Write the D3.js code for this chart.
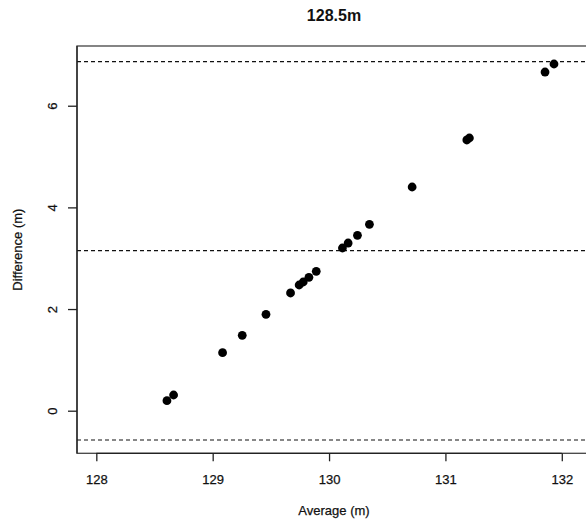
<!DOCTYPE html>
<html>
<head>
<meta charset="utf-8">
<script src="https://cdn.jsdelivr.net/npm/d3@7"></script>
<style>
  html, body { margin: 0; padding: 0; background: #fff; }
  svg { display: block; font-family: "Liberation Sans", Arial, Helvetica, sans-serif; }
</style>
</head>
<body>
<svg id="chart" width="586" height="519"></svg>
<script>
// ---- data ----
const averages = [128.607, 128.664, 129.085, 129.254, 129.458, 129.669, 129.743, 129.778,
                  129.827, 129.890, 130.115, 130.164, 130.244, 130.347, 130.714, 131.184,
                  131.206, 131.856, 131.933];
const differences = [0.197, 0.309, 1.141, 1.483, 1.897, 2.316, 2.473, 2.532,
                     2.624, 2.742, 3.201, 3.299, 3.451, 3.667, 4.401, 5.326,
                     5.365, 6.663, 6.821];
const limitLines = [6.866, 3.148, -0.576];   // upper LoA, mean diff, lower LoA
const xTicks = [128, 129, 130, 131, 132];
const yTicks = [0, 2, 4, 6];
const titleText = "128.5m";
const xLabel = "Average (m)";
const yLabel = "Difference (m)";

// ---- layout ----
const svg = d3.select("#chart");
const plot = { left: 77, right: 591, top: 46, bottom: 453.3 };

const x = d3.scaleLinear().domain([127.834, 132.251]).range([plot.left, plot.right]);
const y = d3.scaleLinear().domain([-0.838, 7.175]).range([plot.bottom, plot.top]);

const ink = "#111";
const lineCol = "#222";

// plot box
svg.append("rect")
  .attr("x", plot.left).attr("y", plot.top)
  .attr("width", plot.right - plot.left).attr("height", plot.bottom - plot.top)
  .attr("fill", "none").attr("stroke", "#444").attr("stroke-width", 1.3);

// dashed reference lines
svg.selectAll("line.ref").data(limitLines).join("line")
  .attr("class", "ref")
  .attr("x1", plot.left).attr("x2", plot.right)
  .attr("y1", d => y(d)).attr("y2", d => y(d))
  .attr("stroke", "#111").attr("stroke-width", 1.2)
  .attr("stroke-dasharray", "4,3");

// x axis
const xAxis = d3.axisBottom(x).tickValues(xTicks).tickFormat(d3.format("d"))
  .tickSize(8).tickSizeOuter(0).tickPadding(14);
const gx = svg.append("g").attr("transform", `translate(0,${plot.bottom})`).call(xAxis);
gx.select(".domain").remove();
gx.selectAll(".tick line").attr("stroke", lineCol).attr("stroke-width", 1.3);
gx.selectAll(".tick text").attr("fill", ink).attr("font-size", 13)
  .attr("stroke", ink).attr("stroke-width", 0.25)
  .attr("dy", null).attr("y", 30.5);
svg.append("line")
  .attr("x1", x(xTicks[0])).attr("x2", x(xTicks[xTicks.length - 1]))
  .attr("y1", plot.bottom).attr("y2", plot.bottom)
  .attr("stroke", lineCol).attr("stroke-width", 1.3);

// y axis
const yAxis = d3.axisLeft(y).tickValues(yTicks).tickFormat(d3.format("d"))
  .tickSize(9).tickSizeOuter(0);
const gy = svg.append("g").attr("transform", `translate(${plot.left},0)`).call(yAxis);
gy.select(".domain").remove();
gy.selectAll(".tick line").attr("stroke", lineCol).attr("stroke-width", 1.3);
gy.selectAll(".tick text")
  .attr("fill", ink).attr("font-size", 13)
  .attr("stroke", ink).attr("stroke-width", 0.25)
  .attr("x", null).attr("dy", null).attr("y", null)
  .attr("text-anchor", "middle")
  .attr("transform", "translate(-20,0) rotate(-90)");
svg.append("line")
  .attr("x1", plot.left).attr("x2", plot.left)
  .attr("y1", plot.top).attr("y2", plot.bottom)
  .attr("stroke", lineCol).attr("stroke-width", 1.3);

// points
svg.selectAll("circle.pt").data(averages.map((a, i) => [a, differences[i]])).join("circle")
  .attr("class", "pt")
  .attr("cx", d => x(d[0])).attr("cy", d => y(d[1]))
  .attr("r", 4.4).attr("fill", "#000");

// titles
svg.append("text").attr("x", (plot.left + plot.right) / 2).attr("y", 21)
  .attr("text-anchor", "middle").attr("font-size", 16).attr("font-weight", "bold")
  .attr("fill", ink).text(titleText);
svg.append("text").attr("x", (plot.left + plot.right) / 2).attr("y", 515)
  .attr("text-anchor", "middle").attr("font-size", 13).attr("fill", ink)
  .attr("stroke", ink).attr("stroke-width", 0.25).text(xLabel);
svg.append("text")
  .attr("transform", `translate(22,${(plot.top + plot.bottom) / 2}) rotate(-90)`)
  .attr("text-anchor", "middle").attr("font-size", 13).attr("fill", ink)
  .attr("stroke", ink).attr("stroke-width", 0.25).text(yLabel);
</script>
</body>
</html>
